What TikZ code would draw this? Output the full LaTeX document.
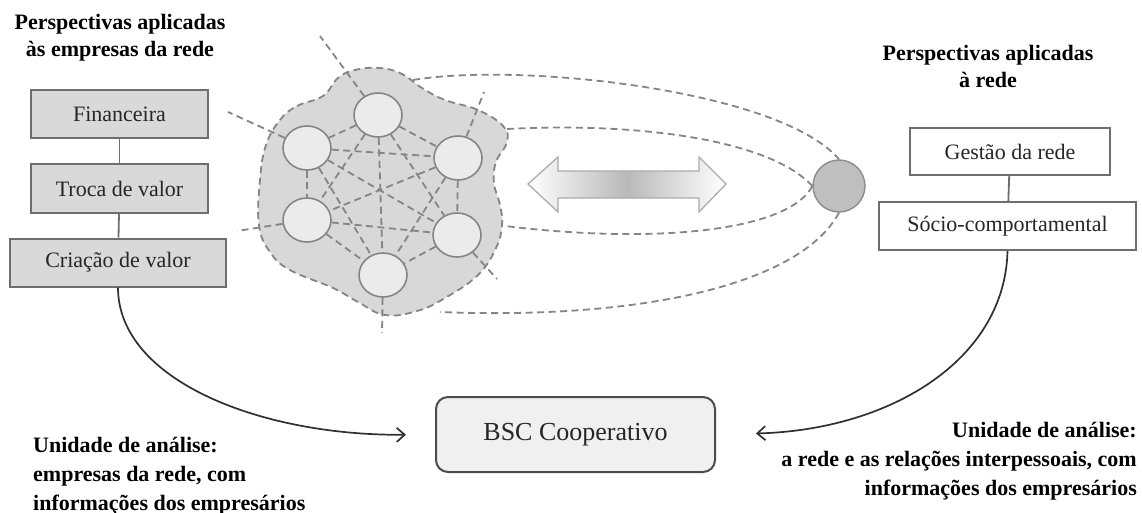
\documentclass[tikz,border=0pt]{standalone}
\usepackage{fontspec}
\setmainfont{Liberation Serif}
\usetikzlibrary{arrows.meta,shapes.geometric}
\definecolor{boxfill}{HTML}{D9D9D9}
\definecolor{boxline}{HTML}{6E6E6E}
\definecolor{dashc}{HTML}{858585}
\definecolor{blobfill}{HTML}{D8D8D8}
\definecolor{circfill}{HTML}{EBEBEB}
\definecolor{hubfill}{HTML}{BFBFBF}
\definecolor{hubline}{HTML}{8C8C8C}
\definecolor{bscfill}{HTML}{F0F0F0}
\definecolor{curvec}{HTML}{303030}
\definecolor{txt}{HTML}{262626}
\begin{document}
\begin{tikzpicture}[x=1pt,y=-1pt,
 perspbox/.style={draw=boxline, line width=2pt, minimum height=48pt, inner sep=0pt, font=\fontsize{22}{26}\selectfont, text=txt},
 leftbox/.style={perspbox, fill=boxfill},
 rightbox/.style={perspbox, fill=white},
 net/.style={draw=dashc, line width=1.8pt, dash pattern=on 7pt off 4.5pt},
 peer/.style={ellipse, draw=dashc, fill=circfill, line width=1.6pt, minimum width=48pt, minimum height=44pt, inner sep=0pt},
 title/.style={font=\fontsize{22}{27}\selectfont\bfseries, align=center, text=black, inner sep=0pt},
 unit/.style={font=\fontsize{22}{29}\selectfont\bfseries, text=black, inner sep=0pt},
 link/.style={draw=boxline, line width=1.8pt},
 flow/.style={draw=curvec, line width=1.7pt, -{Straight Barb[length=8pt,width=14pt]}},
]
\useasboundingbox (0,0) rectangle (1142,513);

% titles
\node[title] (titleL) at (120,38) {Perspectivas aplicadas\\às empresas da rede};
\node[title] (titleR) at (988,66) {Perspectivas aplicadas\\à rede};

% left boxes
\node[leftbox, minimum width=177pt] (fin) at (119.5,114) {Financeira};
\node[leftbox, minimum width=177pt] (troca) at (119.5,188.5) {Troca de valor};
\node[leftbox, minimum width=216pt] (cria) at (118,262.5) {Criação de valor};
\draw[link] (fin) -- (troca);
\draw[link] (troca) -- (cria);

% right boxes
\node[rightbox, minimum width=200pt, minimum height=47pt] (gest) at (1010,151.5) {Gestão da rede};
\node[rightbox, minimum width=257pt] (socio) at (1007.5,226) {Sócio-comportamental};
\draw[link] (gest) -- (socio);

% network blob
\draw[net, fill=blobfill] plot[smooth cycle, tension=0.7] coordinates {(280,120) (297,106) (323,96) (338,78) (355,70) (380,68) (402,74) (422,88) (445,100) (478,110) (503,126) (507,142) (496,162) (494,183) (500,205) (502,225) (496,248) (478,275) (445,298) (417,311) (385,315) (358,302) (333,288) (290,270) (270,252) (259,225) (260,180) (266,145)};

\node[peer] (n1) at (378,115) {};
\node[peer] (n2) at (307,148) {};
\node[peer] (n3) at (458,158) {};
\node[peer] (n4) at (307,220) {};
\node[peer] (n5) at (457,235) {};
\node[peer] (n6) at (383,275) {};
\foreach \a/\b in {n1/n2,n1/n3,n1/n4,n1/n5,n1/n6,n2/n3,n2/n4,n2/n5,n2/n6,n3/n4,n3/n5,n3/n6,n4/n5,n4/n6,n5/n6}
  \draw[net] (\a) -- (\b);

\coordinate (x1) at (320,36);
\coordinate (x2) at (228,112);
\coordinate (x3) at (237,231);
\coordinate (x4) at (382,333);
\coordinate (x5) at (497,279);
\coordinate (x6) at (484,92);
\draw[net] (n1) -- (x1);
\draw[net] (n2) -- (x2);
\draw[net] (n4) -- (x3);
\draw[net] (n6) -- (x4);
\draw[net] (n5) -- (x5);
\draw[net] (n3) -- (x6);

% hub and loops
\node[circle, draw=hubline, fill=hubfill, line width=1.4pt, minimum size=52pt, inner sep=0pt] (hub) at (839,186) {};
\coordinate (oT) at (413,80);
\coordinate (oB) at (440,312);
\coordinate (iT) at (507,129);
\coordinate (iB) at (505,226);
\draw[net] (oT) .. controls (520,62) and (780,90) .. (hub.north);
\draw[net] (hub.south) .. controls (800,285) and (640,320) .. (oB);
\draw[net] (iT) .. controls (640,122) and (770,140) .. (hub.west);
\draw[net] (hub.west) .. controls (790,230) and (660,245) .. (iB);

% double arrow
\path[draw=gray!65, line width=1.3pt, left color=white, right color=white, middle color=gray!55]
 (528,184) -- (558,157) -- (558,171) -- (699,171) -- (699,157) -- (726,184) -- (699,212) -- (699,198) -- (558,198) -- (558,212) -- cycle;

% BSC
\node[draw=gray!60!black, fill=bscfill, rounded corners=12pt, minimum width=279pt, minimum height=75pt, line width=2pt, font=\fontsize{26}{30}\selectfont, text=txt] (bsc) at (575.5,434.5) {BSC Cooperativo};

\draw[flow, shorten >=29pt] (cria.south) .. controls (118,380) and (260,436) .. (bsc.west);
\draw[flow, shorten >=40pt] (socio.south) .. controls (1005,360) and (890,430) .. (bsc.east);

% units
\node[unit, align=left, anchor=west] (unitL) at (33,476) {Unidade de análise:\\empresas da rede, com\\informações dos empresários};
\node[unit, align=right, anchor=east] (unitR) at (1137,461) {Unidade de análise:\\a rede e as relações interpessoais, com\\informações dos empresários};
\end{tikzpicture}
\end{document}
